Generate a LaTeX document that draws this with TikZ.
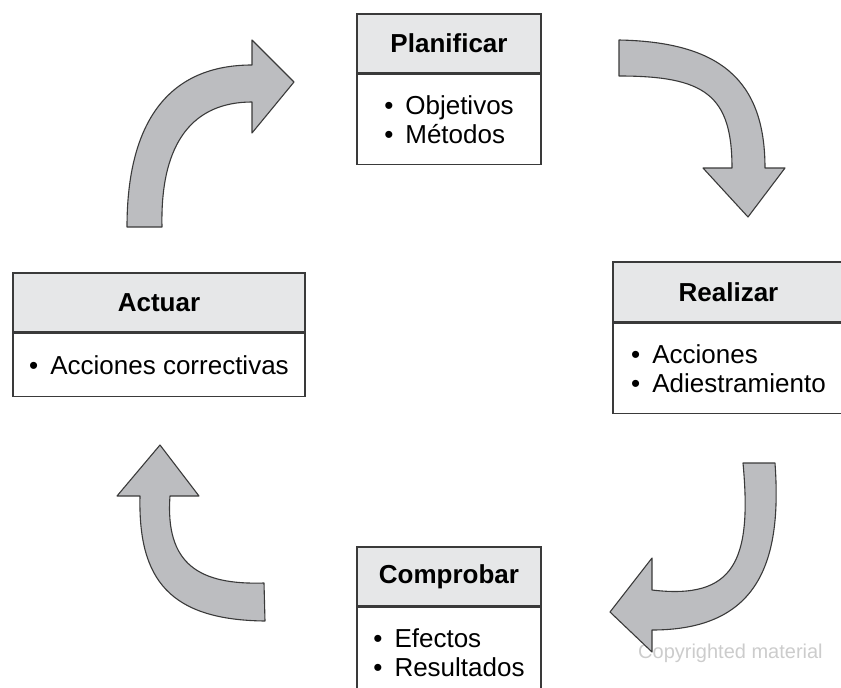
\documentclass[tikz,border=0pt]{standalone}
\usepackage{fontspec}
\setmainfont{Liberation Sans}
\usetikzlibrary{positioning}
\definecolor{headgray}{HTML}{E6E7E8}
\definecolor{arrowgray}{HTML}{BCBDC0}
\definecolor{edgegray}{HTML}{3A3A3A}
\newcommand{\punto}{\textbullet\hspace{12pt}}
\begin{document}
\begin{tikzpicture}[x=1pt, y=-1pt,
    titulo/.style={draw=edgegray, line width=1.6pt, fill=headgray, inner sep=0pt,
        minimum height=59pt, font=\bfseries\fontsize{26}{29}\selectfont},
    lista/.style={draw=edgegray, line width=1.6pt, fill=white, inner sep=0pt,
        align=left, font=\fontsize{26}{29}\selectfont},
    flecha/.style={draw=edgegray, line width=1.1pt, fill=arrowgray, line join=round}]
    % the frame
    \useasboundingbox (0,0) rectangle (841,688);
    \path[clip] (0,0) rectangle (841,688);

    % watermark
    \node[text=black!20, font=\fontsize{20}{22}\selectfont, anchor=base west, inner sep=0pt]
        (marca) at (638,658) {Copyrighted material};

    % the four stages
    \node[titulo, minimum width=184pt] (plan) at (449,43.5) {Planificar};
    \node[lista, minimum width=184pt, minimum height=90pt, below=0pt of plan] (planL)
        {\punto Objetivos\\ \punto Métodos};

    \node[titulo, minimum width=231pt, minimum height=60pt] (real) at (728.5,292) {Realizar};
    \node[lista, minimum width=231pt, minimum height=90pt, below=0pt of real] (realL)
        {\punto Acciones\\ \punto Adiestramiento};

    \node[titulo, minimum width=184pt] (comp) at (449,576.5) {Comprobar};
    \node[lista, minimum width=184pt, minimum height=90pt, below=0pt of comp] (compL)
        {\punto Efectos\\ \punto Resultados};

    \node[titulo, minimum width=292pt] (act) at (159,302.5) {Actuar};
    \node[lista, minimum width=292pt, minimum height=63pt, below=0pt of act] (actL)
        {\punto Acciones correctivas};

    % the arrows
    \draw[flecha] (127,227) .. controls (127,120) and (170,65) .. (252,65)
        -- (252,40) -- (294,82) -- (252,133) -- (252,102)
        .. controls (195,102) and (160,140) .. (162,227) -- cycle;
    \draw[flecha] (619,40) .. controls (720,42) and (765,80) .. (765,168)
        -- (785,168) -- (748,217) -- (703,168) -- (732,168)
        .. controls (732,95) and (705,76) .. (619,76) -- cycle;
    \draw[flecha] (775,463) .. controls (782,560) and (760,630) .. (652,630)
        -- (652,652) -- (610,612) -- (652,558) -- (652,590)
        .. controls (735,600) and (752,560) .. (743,463) -- cycle;
    \draw[flecha] (265,621) .. controls (170,620) and (138,580) .. (140,496)
        -- (117,496) -- (160,445) -- (199,496) -- (170,496)
        .. controls (165,565) and (200,585) .. (264,583) -- cycle;
\end{tikzpicture}
\end{document}
